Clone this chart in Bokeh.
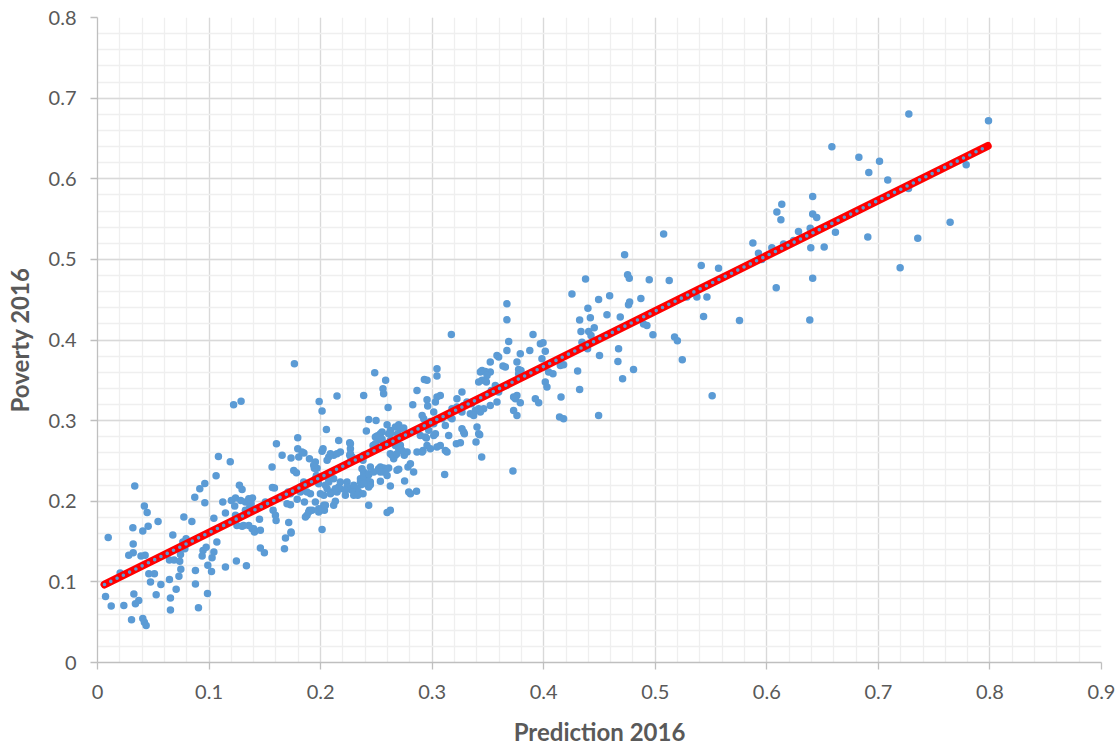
from bokeh.plotting import figure
from bokeh.models import FixedTicker, ColumnDataSource
from bokeh.embed import file_html
from bokeh.resources import INLINE

# ---- data ----
prediction = [
    0.0334, 0.0096, 0.042, 0.0445, 0.0543, 0.0317, 0.0406, 0.0454, 0.032, 0.028, 0.032, 0.039, 0.0427, 0.0203, 0.046, 0.051,
    0.0475, 0.0568, 0.0645, 0.0705, 0.0526, 0.0654, 0.0072, 0.0123, 0.0236, 0.0326, 0.034, 0.037, 0.0305, 0.0406, 0.042, 0.0436,
    0.0654, 0.0905, 0.0986, 0.0878, 0.0878, 0.0747, 0.073, 0.0645, 0.0686, 0.0737, 0.0675, 0.0774, 0.0846, 0.0765, 0.0794, 0.0783,
    0.0744, 0.0872, 0.0917, 0.0962, 0.0962, 0.0946, 0.0974, 0.0938, 0.1027, 0.1043, 0.0989, 0.1022, 0.1147, 0.1245, 0.1335, 0.1043,
    0.1123, 0.1147, 0.12, 0.1237, 0.1272, 0.1296, 0.123, 0.107, 0.136, 0.139, 0.142, 0.1237, 0.125, 0.1296, 0.1356, 0.140,
    0.122, 0.1287, 0.1084, 0.119, 0.1063, 0.1284, 0.1326, 0.1356, 0.1377, 0.1365, 0.1326, 0.1386, 0.131, 0.1386, 0.1407, 0.146,
    0.1452, 0.1505, 0.1565, 0.1568, 0.1586, 0.1574, 0.1595, 0.1601, 0.146, 0.1496, 0.1604, 0.1655, 0.1735, 0.1804, 0.1795, 0.1795,
    0.185, 0.190, 0.1953, 0.1968, 0.1944, 0.2022, 0.2013, 0.2052, 0.1987, 0.2013, 0.1759, 0.1783, 0.1709, 0.173, 0.1819, 0.179,
    0.1855, 0.1909, 0.1953, 0.1998, 0.1983, 0.2034, 0.190, 0.1878, 0.1699, 0.173, 0.1714, 0.1735, 0.1685, 0.1676, 0.2013,
    0.1765, 0.2147, 0.2386, 0.2485, 0.2583, 0.2559, 0.2565, 0.2605, 0.2431, 0.2497, 0.2410, 0.2506, 0.2536, 0.2551, 0.2530, 0.2491,
    0.247, 0.2596, 0.2625, 0.261, 0.267, 0.270, 0.2715, 0.2745, 0.269, 0.267, 0.2655, 0.2625, 0.2715, 0.2775, 0.275, 0.2826,
    0.2864, 0.293, 0.2954, 0.2954, 0.296, 0.291, 0.2924, 0.2894, 0.2948, 0.2954, 0.2864, 0.2918, 0.2834, 0.2783, 0.279, 0.286,
    0.2753, 0.267, 0.2655, 0.2685, 0.261, 0.259, 0.2565, 0.2536, 0.2596, 0.2536, 0.2446, 0.238, 0.2371, 0.2386, 0.241, 0.2431,
    0.2401, 0.2357, 0.2362, 0.2326, 0.234, 0.238, 0.2431, 0.2261, 0.2267, 0.2261, 0.2273, 0.2162, 0.2177, 0.2117, 0.2073, 0.1833,
    0.1938, 0.1819, 0.1848, 0.1878, 0.1962, 0.1953, 0.1983, 0.2058, 0.2073, 0.2102, 0.2147, 0.2162, 0.2177, 0.2117, 0.2237, 0.2252,
    0.2282, 0.2177, 0.2297, 0.2222, 0.2805,
    0.3724, 0.3444, 0.3112, 0.3393, 0.3426, 0.3289, 0.3217, 0.3253, 0.3148, 0.3133, 0.3118, 0.3043, 0.3073, 0.2984, 0.291, 0.2939,
    0.2805, 0.270, 0.2536, 0.2565, 0.252, 0.2625, 0.2625, 0.2596, 0.2431, 0.2446, 0.2416, 0.2386, 0.2357, 0.2386, 0.2333, 0.2297,
    0.2237, 0.2222, 0.2132, 0.2088, 0.2058, 0.2043, 0.2028, 0.2117, 0.2132, 0.2028, 0.1998, 0.2088, 0.2058, 0.2147, 0.2267, 0.2267,
    0.2282, 0.2386, 0.2446, 0.2431, 0.2476, 0.2536, 0.2521, 0.2551, 0.2491, 0.2566, 0.2626, 0.2685, 0.2715, 0.2700, 0.2730, 0.2625,
    0.2640, 0.2685,
    0.1735, 0.1864, 0.1893, 0.1923, 0.1983, 0.2013, 0.2043,
    0.367, 0.367, 0.3172, 0.3686, 0.367, 0.3581, 0.3596, 0.379, 0.376, 0.3775, 0.3521, 0.3635, 0.3656, 0.3447, 0.3477, 0.3432,
    0.3521, 0.3492, 0.3447, 0.3486, 0.3566, 0.3596, 0.353, 0.3581, 0.376, 0.3746, 0.379, 0.373, 0.376, 0.3521, 0.3462, 0.3417,
    0.3387, 0.3342, 0.3282, 0.3253, 0.3312, 0.3402, 0.3417, 0.3267, 0.3222, 0.3043, 0.3043, 0.3073, 0.3043, 0.3029, 0.3014, 0.2984,
    0.3222, 0.3163, 0.3178, 0.3088, 0.3118, 0.3014, 0.2969, 0.3014, 0.3029, 0.3267, 0.3282, 0.3417,
    0.3178, 0.3267, 0.3354, 0.3432, 0.3372,
    0.4725, 0.4752, 0.4767, 0.4375, 0.4946, 0.4253, 0.4492, 0.4591, 0.4396, 0.477, 0.476, 0.4871, 0.4567, 0.4686, 0.4418, 0.4322,
    0.4334, 0.4403, 0.4424, 0.4453, 0.4343, 0.4393, 0.4373, 0.450, 0.4304, 0.4322, 0.4665, 0.4671, 0.4707, 0.4805, 0.4895, 0.4925,
    0.4155, 0.4492, 0.4142, 0.4178, 0.3904, 0.3875, 0.397, 0.3994, 0.4014, 0.3796, 0.3775, 0.382, 0.3984, 0.4, 0.4044, 0.4014,
    0.4029, 0.4083, 0.4149, 0.4178, 0.373, 0.3925, 0.3955, 0.3665,
    0.7273, 0.7987, 0.6583, 0.6825, 0.701, 0.6914, 0.7084, 0.7787, 0.727, 0.6411, 0.6134, 0.609, 0.6126, 0.6411, 0.6447, 0.7643,
    0.6615, 0.6284, 0.624, 0.6389, 0.6394, 0.6514, 0.6905, 0.7353, 0.7195, 0.6411, 0.6084, 0.6385, 0.5875, 0.5925, 0.5955, 0.6045,
    0.615, 0.5075, 0.5412, 0.5567, 0.5125, 0.5283, 0.5373, 0.5463, 0.5433, 0.5755, 0.4979, 0.5173, 0.5242, 0.551, 0.5198,
]
poverty = [
    0.219, 0.155, 0.194, 0.186, 0.175, 0.167, 0.163, 0.169, 0.147, 0.133, 0.136, 0.132, 0.133, 0.111, 0.110, 0.110,
    0.100, 0.0967, 0.103, 0.091, 0.084, 0.080, 0.082, 0.070, 0.0706, 0.085, 0.073, 0.077, 0.053, 0.0545, 0.050, 0.046,
    0.065, 0.068, 0.0855, 0.0975, 0.114, 0.1157, 0.107, 0.127, 0.127, 0.1255, 0.158, 0.1805, 0.175, 0.1495, 0.1536, 0.141,
    0.134, 0.205, 0.2156, 0.222, 0.198, 0.139, 0.143, 0.132, 0.130, 0.137, 0.1206, 0.113, 0.1186, 0.126, 0.120, 0.179,
    0.199, 0.1855, 0.201, 0.204, 0.2197, 0.2147, 0.194, 0.1496, 0.200, 0.204, 0.190, 0.1825, 0.170, 0.169, 0.170, 0.166,
    0.3197, 0.324, 0.2556, 0.249, 0.2317, 0.201, 0.199, 0.203, 0.197, 0.193, 0.1887, 0.1887, 0.170, 0.166, 0.162, 0.164,
    0.1776, 0.199, 0.2425, 0.217, 0.2165, 0.1887, 0.1825, 0.176, 0.142, 0.136, 0.2714, 0.2569, 0.2536, 0.255, 0.265, 0.2788,
    0.260, 0.2528, 0.2487, 0.241, 0.241, 0.265, 0.262, 0.289, 0.3238, 0.312, 0.238, 0.2354, 0.2115, 0.2094, 0.2115, 0.2024,
    0.199, 0.2094, 0.199, 0.2094, 0.1908, 0.1887, 0.1887, 0.1825, 0.197, 0.1958, 0.1735, 0.162, 0.1545, 0.141, 0.165,
    0.3705, 0.3305, 0.3313, 0.3594, 0.350, 0.3395, 0.3333, 0.3164, 0.3015, 0.3003, 0.2871, 0.281, 0.2838, 0.2858, 0.2767, 0.2797,
    0.2693, 0.295, 0.2878, 0.2838, 0.292, 0.295, 0.290, 0.2908, 0.2838, 0.2693, 0.2734, 0.2755, 0.265, 0.261, 0.257, 0.3197,
    0.3374, 0.351, 0.350, 0.326, 0.318, 0.3065, 0.3023, 0.2817, 0.2784, 0.2693, 0.261, 0.263, 0.2363, 0.2425, 0.2115, 0.2123,
    0.225, 0.257, 0.2528, 0.2383, 0.2413, 0.2396, 0.2413, 0.2425, 0.232, 0.2247, 0.224, 0.2507, 0.2404, 0.2363, 0.232, 0.233,
    0.2259, 0.228, 0.2206, 0.2156, 0.2115, 0.2094, 0.2177, 0.2726, 0.265, 0.257, 0.2528, 0.2755, 0.261, 0.257, 0.2549, 0.261,
    0.2445, 0.2177, 0.224, 0.2115, 0.232, 0.228, 0.2218, 0.230, 0.224, 0.2115, 0.2115, 0.2177, 0.224, 0.228, 0.224, 0.2156,
    0.2135, 0.2156, 0.2073, 0.2073, 0.2094,
    0.2375, 0.2549, 0.2333, 0.2735, 0.2825, 0.2838, 0.2714, 0.2726, 0.2817, 0.261, 0.263, 0.2673, 0.2693, 0.2652, 0.261, 0.2797,
    0.2466, 0.2396, 0.2383, 0.2363, 0.2404, 0.219, 0.1887, 0.1859, 0.1949, 0.2206, 0.228, 0.232, 0.224, 0.2218, 0.2073, 0.2197,
    0.2177, 0.2135, 0.2156, 0.2094, 0.2156, 0.2197, 0.2073, 0.1949, 0.1999, 0.1949, 0.1887, 0.259, 0.2507, 0.259, 0.2714, 0.259,
    0.2549, 0.257, 0.2425, 0.234, 0.2363, 0.2363, 0.2817, 0.277, 0.2714, 0.2694, 0.2838, 0.2735, 0.2694, 0.2652, 0.2631, 0.2590,
    0.2570, 0.2590,
    0.1607, 0.1805, 0.1866, 0.1887, 0.1866, 0.1908, 0.1949,
    0.4449, 0.425, 0.4068, 0.398, 0.387, 0.3808, 0.3788, 0.3829, 0.3726, 0.3634, 0.3726, 0.3677, 0.3664, 0.3622, 0.361, 0.3602,
    0.3602, 0.356, 0.350, 0.3478, 0.3436, 0.3354, 0.3374, 0.323, 0.3313, 0.3271, 0.3222, 0.3127, 0.3065, 0.3189, 0.3147, 0.3147,
    0.3127, 0.3085, 0.3189, 0.3147, 0.323, 0.292, 0.2838, 0.3354, 0.3271, 0.3643, 0.3552, 0.3313, 0.3292, 0.323, 0.3106, 0.299,
    0.3168, 0.3044, 0.3023, 0.3023, 0.294, 0.2962, 0.288, 0.2817, 0.2838, 0.290, 0.2858, 0.3478,
    0.3147, 0.3106, 0.321, 0.3106, 0.3065,
    0.5056, 0.4808, 0.4767, 0.4758, 0.4746, 0.4569, 0.4502, 0.4548, 0.4395, 0.447, 0.4436, 0.4514, 0.4312, 0.4284, 0.4275, 0.4247,
    0.4105, 0.4105, 0.4056, 0.4151, 0.3973, 0.389, 0.3912, 0.3808, 0.3614, 0.3387, 0.3734, 0.389, 0.3519, 0.3634, 0.420, 0.418,
    0.3292, 0.3065, 0.3044, 0.3023, 0.4068, 0.387, 0.3953, 0.3965, 0.3862, 0.3622, 0.358, 0.356, 0.3767, 0.3664, 0.3602, 0.3478,
    0.3416, 0.358, 0.3684, 0.3693, 0.3292, 0.327, 0.3222, 0.3436,
    0.6803, 0.672, 0.6398, 0.6266, 0.6217, 0.6076, 0.5985, 0.6175, 0.588, 0.578, 0.5683, 0.5588, 0.5493, 0.5564, 0.5518, 0.546,
    0.5337, 0.5345, 0.5234, 0.5386, 0.5143, 0.5155, 0.5279, 0.5262, 0.4895, 0.4767, 0.4647, 0.4247, 0.5204, 0.5077, 0.4998, 0.5143,
    0.5192, 0.5316, 0.4923, 0.4891, 0.4737, 0.4532, 0.4532, 0.4532, 0.4291, 0.4241, 0.4064, 0.4036, 0.3755, 0.3309, 0.399,
]

# linear trend line end points (as drawn in the reference)
trend_x = [0.0063, 0.798]
trend_y = [0.0967, 0.6406]

x_ticks = [0, 0.1, 0.2, 0.3, 0.4, 0.5, 0.6, 0.7, 0.8, 0.9]
x_tick_labels = ["0", "0.1", "0.2", "0.3", "0.4", "0.5", "0.6", "0.7", "0.8", "0.9"]
y_ticks = [0, 0.1, 0.2, 0.3, 0.4, 0.5, 0.6, 0.7, 0.8]
y_tick_labels = ["0", "0.1", "0.2", "0.3", "0.4", "0.5", "0.6", "0.7", "0.8"]
x_title = "Prediction 2016"
y_title = "Poverty 2016"

n = min(len(prediction), len(poverty))
src = ColumnDataSource(dict(x=prediction[:n], y=poverty[:n]))

FONT = "Lato"
TEXT_COLOR = "#595959"

p = figure(width=1120, height=748, x_range=(0, 0.9), y_range=(0, 0.8),
           output_backend="svg", toolbar_location=None,
           min_border_left=97, min_border_right=19, min_border_top=17, min_border_bottom=84)
p.outline_line_color = None
p.background_fill_color = "white"
p.border_fill_color = "white"

x_minor = [round(i * 0.02, 2) for i in range(46)]
y_minor = [round(i * 0.02, 2) for i in range(41)]
p.xaxis.ticker = FixedTicker(ticks=x_ticks, minor_ticks=x_minor)
p.yaxis.ticker = FixedTicker(ticks=y_ticks, minor_ticks=y_minor)
p.xaxis.major_label_overrides = {t: l for t, l in zip(x_ticks, x_tick_labels)}
p.yaxis.major_label_overrides = {t: l for t, l in zip(y_ticks, y_tick_labels)}

p.xgrid.grid_line_color = "#d9d9d9"
p.ygrid.grid_line_color = "#d9d9d9"
p.xgrid.grid_line_width = 1.3
p.ygrid.grid_line_width = 1.3
p.xgrid.minor_grid_line_color = "#efefef"
p.ygrid.minor_grid_line_color = "#efefef"
p.xgrid.minor_grid_line_width = 1.3
p.ygrid.minor_grid_line_width = 1.3

for ax in (p.xaxis, p.yaxis):
    ax.axis_line_color = "#bfbfbf"
    ax.axis_line_width = 1.3
    ax.major_tick_line_color = "#bfbfbf"
    ax.major_tick_line_width = 1.3
    ax.major_tick_out = 7
    ax.major_tick_in = 0
    ax.minor_tick_line_color = None
    ax.major_label_text_font = FONT
    ax.major_label_text_font_size = "20px"
    ax.major_label_text_color = TEXT_COLOR
    ax.axis_label_text_font = FONT
    ax.axis_label_text_font_size = "24px"
    ax.axis_label_text_font_style = "bold"
    ax.axis_label_text_color = TEXT_COLOR

p.xaxis.major_label_standoff = 15
p.yaxis.major_label_standoff = 14
p.xaxis.axis_label = x_title
p.yaxis.axis_label = y_title
p.xaxis.axis_label_standoff = 15
p.yaxis.axis_label_standoff = 12

p.scatter("x", "y", source=src, size=7.5, fill_color="#5b9bd5", line_color=None)
p.line(trend_x, trend_y, line_color="#ff0000", line_width=8, line_cap="round")
p.line(trend_x, trend_y, line_color="#5b9bd5", line_width=3.6, line_dash="0 7", line_cap="round")

open("out.html", "w").write(file_html(p, INLINE))
